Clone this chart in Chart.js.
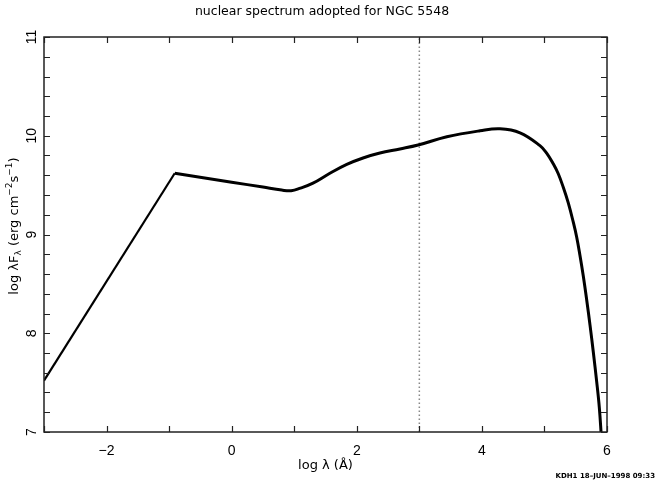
<!DOCTYPE html>
<html>
<head>
<meta charset="utf-8">
<script src="https://cdn.jsdelivr.net/npm/chart.js@4.4.1/dist/chart.umd.min.js"></script>
<style>
  html, body { margin: 0; padding: 0; background: #fff; }
  canvas { display: block; }
</style>
</head>
<body>
<canvas id="chart" width="659" height="483"></canvas>
<script>
// spectrum (log lambda [A], log lambda F_lambda)
const logLambda = [-3.0, -0.91, 0.0, 0.5, 0.8, 0.95, 1.1, 1.3, 1.57, 1.84, 2.1, 2.37, 2.69, 2.98,
                   3.44, 3.97, 4.29, 4.61, 4.928, 5.035, 5.141, 5.221, 5.301, 5.381, 5.461,
                   5.515, 5.568, 5.621, 5.675, 5.728, 5.781, 5.835, 5.877, 5.91];
const logFlux = [7.52, 9.62, 9.53, 9.48, 9.45, 9.443, 9.47, 9.52, 9.62, 9.71, 9.775, 9.825, 9.866, 9.906,
                 9.99, 10.05, 10.07, 10.03, 9.90, 9.825, 9.716, 9.615, 9.478, 9.32, 9.125,
                 8.975, 8.788, 8.58, 8.34, 8.085, 7.81, 7.51, 7.25, 6.95];
const breakIndex = 1; // power-law segment ends at the kink

const markerX = 3;          // dotted vertical line
const xTicks = [-2, 0, 2, 4, 6];
const yTicks = [7, 8, 9, 10, 11];
const xRange = [-3, 6];
const yRange = [7, 11];

const points = logLambda.map((x, i) => ({ x: x, y: logFlux[i] }));

// minor ticks on all four sides, frame, titles, footer
const framePlugin = {
    id: "frame",
    afterDraw(chart) {
        const ctx = chart.ctx;
        const { left, right, top, bottom } = chart.chartArea;
        const xs = chart.scales.x;
        const ys = chart.scales.y;

        ctx.save();
        ctx.strokeStyle = "#222";
        ctx.lineWidth = 1.5;
        ctx.strokeRect(left, top, right - left, bottom - top);

        ctx.lineWidth = 1.2;
        ctx.beginPath();
        for (let v = xRange[0]; v <= xRange[1] + 1e-9; v += 1) {
            const px = Math.round(xs.getPixelForValue(v)) + 0.5;
            ctx.moveTo(px, bottom);
            ctx.lineTo(px, bottom - 6);
            ctx.moveTo(px, top);
            ctx.lineTo(px, top + 6);
        }
        for (let k = 0; k <= 20; k++) {
            const v = yRange[0] + k * 0.2;
            const py = Math.round(ys.getPixelForValue(v)) + 0.5;
            ctx.moveTo(left, py);
            ctx.lineTo(left + 6, py);
            ctx.moveTo(right, py);
            ctx.lineTo(right - 6, py);
        }
        ctx.stroke();

        ctx.fillStyle = "#000";
        ctx.textAlign = "center";
        ctx.textBaseline = "middle";
        // main title
        ctx.font = "12.5px 'DejaVu Sans'";
        ctx.fillText("nuclear spectrum adopted for NGC 5548", 322, 12);

        // x axis title
        ctx.font = "13px 'DejaVu Sans'";
        ctx.fillText("log \u03bb (\u00c5)", (left + right) / 2, 466);

        // y axis title with sub/superscripts
        const main = "13px 'DejaVu Sans'";
        const small = "9px 'DejaVu Sans'";
        const parts = [
            ["log \u03bbF", main, 0],
            ["\u03bb", small, 4],
            [" (erg cm", main, 0],
            ["\u22122", small, -5],
            ["s", main, 0],
            ["\u22121", small, -5],
            [")", main, 0]
        ];
        let total = 0;
        parts.forEach(p => { ctx.font = p[1]; total += ctx.measureText(p[0]).width; });
        ctx.translate(15, 226);
        ctx.rotate(-Math.PI / 2);
        ctx.textAlign = "left";
        let cx = -total / 2;
        parts.forEach(p => {
            ctx.font = p[1];
            ctx.fillText(p[0], cx, p[2]);
            cx += ctx.measureText(p[0]).width;
        });
        ctx.setTransform(1, 0, 0, 1, 0, 0);

        // footer stamp
        ctx.font = "bold 7px 'DejaVu Sans'";
        ctx.textAlign = "right";
        ctx.fillText("KDH1 18\u2013JUN\u20131998 09:33", 655, 476);
        ctx.restore();
    }
};

new Chart(document.getElementById("chart"), {
    type: "line",
    data: {
        datasets: [
            {
                data: points.slice(0, breakIndex + 1),
                borderColor: "#000",
                borderWidth: 2.2,
                pointRadius: 0,
                tension: 0
            },
            {
                data: points.slice(breakIndex),
                borderColor: "#000",
                borderWidth: 3,
                pointRadius: 0,
                tension: 0.4
            },
            {
                data: [{ x: markerX, y: yRange[0] }, { x: markerX, y: yRange[1] }],
                borderColor: "#888",
                borderWidth: 1.5,
                borderDash: [1.5, 2.5],
                pointRadius: 0
            }
        ]
    },
    options: {
        responsive: false,
        animation: false,
        devicePixelRatio: 1,
        layout: { padding: { left: 0, right: 52, top: 37, bottom: 0 } },
        plugins: {
            legend: { display: false },
            tooltip: { enabled: false },
            title: { display: false }
        },
        scales: {
            x: {
                type: "linear",
                min: xRange[0],
                max: xRange[1],
                grid: { display: false },
                border: { display: false },
                afterBuildTicks: (scale) => { scale.ticks = xTicks.map(v => ({ value: v })); },
                afterFit: (scale) => { scale.height = 51; },
                ticks: {
                    color: "#000",
                    font: { family: "'Liberation Sans'", size: 14 },
                    padding: 3,
                    maxRotation: 0,
                    callback: (v) => (v < 0 ? "\u2212" + Math.abs(v) : String(v))
                }
            },
            y: {
                type: "linear",
                min: yRange[0],
                max: yRange[1],
                grid: { display: false },
                border: { display: false },
                afterBuildTicks: (scale) => { scale.ticks = yTicks.map(v => ({ value: v })); },
                afterFit: (scale) => { scale.width = 44; },
                ticks: {
                    color: "#000",
                    font: { family: "'Liberation Sans'", size: 14 },
                    minRotation: 90,
                    maxRotation: 90,
                    crossAlign: "center",
                    padding: -4
                }
            }
        }
    },
    plugins: [framePlugin]
});
</script>
</body>
</html>
